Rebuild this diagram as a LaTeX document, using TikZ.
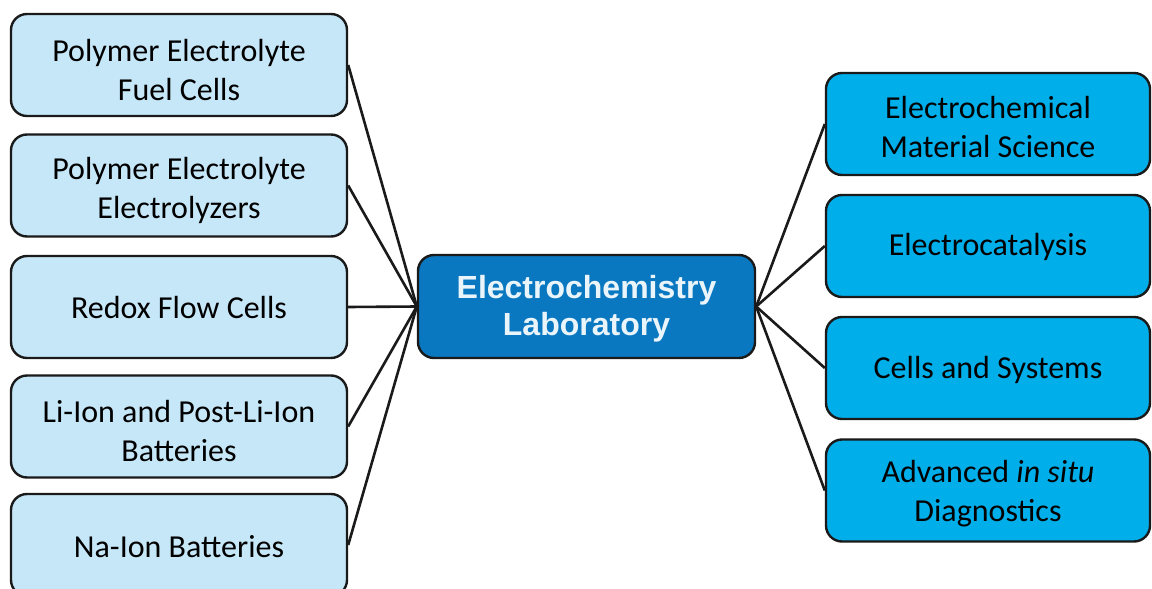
\documentclass[tikz,border=0pt]{standalone}
\usepackage{fontspec}
\setmainfont{Carlito}
\newfontfamily\arialfont{Liberation Sans}
\definecolor{lightbox}{HTML}{C6E7F8}
\definecolor{rightbox}{HTML}{00AEEA}
\definecolor{centerbox}{HTML}{0A78C0}
\definecolor{centertext}{HTML}{EAF5FB}
\definecolor{edgecol}{HTML}{1A1A1A}
\begin{document}
\begin{tikzpicture}[x=1pt,y=-1pt,
  basebox/.style={draw=edgecol, line width=2.4pt, rounded corners=16pt, inner sep=0pt},
  leftbox/.style={basebox, fill=lightbox, minimum width=336pt, minimum height=102pt},
  rightbox/.style={basebox, fill=rightbox, minimum width=324pt, minimum height=102pt},
  hubbox/.style={basebox, fill=centerbox, minimum width=337pt, minimum height=103pt},
  boxtext/.style={align=center, inner sep=0pt, text=black, font=\fontsize{32}{39}\selectfont},
  hubtext/.style={align=center, inner sep=0pt, text=centertext,
    font=\arialfont\bfseries\fontsize{32}{37}\selectfont},
  link/.style={draw=edgecol, line width=2.6pt}]
\useasboundingbox (0,0) rectangle (1152,589);
\fill[white] (0,0) rectangle (1152,589);
\node[hubbox] (hub) at (586.5,306.5) {};
\node[hubtext] (hubt) at (586.5,309) {Electrochemistry\\Laboratory};
\node[leftbox] (l1) at (179,65) {};
\node[leftbox] (l2) at (179,185.5) {};
\node[leftbox] (l3) at (179,307) {};
\node[leftbox] (l4) at (179,426.5) {};
\node[leftbox] (l5) at (179,545) {};
\node[boxtext] (l1t) at (179,70) {Polymer Electrolyte\\Fuel Cells};
\node[boxtext] (l2t) at (179,190) {Polymer Electrolyte\\Electrolyzers};
\node[boxtext] (l3t) at (179,308) {Redox Flow Cells};
\node[boxtext] (l4t) at (179,431) {Li-Ion and Post-Li-Ion\\Batteries};
\node[boxtext] (l5t) at (179,547) {Na-Ion Batteries};
\node[rightbox] (r1) at (988,124) {};
\node[rightbox] (r2) at (988,246) {};
\node[rightbox] (r3) at (988,368) {};
\node[rightbox] (r4) at (988,490.5) {};
\node[boxtext] (r1t) at (988,127) {Electrochemical\\Material Science};
\node[boxtext] (r2t) at (988,247) {Electrocatalysis};
\node[boxtext] (r3t) at (988,370) {Cells and Systems};
\node[boxtext] (r4t) at (988,494) {Advanced \textit{in situ}\\Diagnostics};
\foreach \n in {l1,l2,l3,l4,l5} \draw[link] (\n.east) -- (hub.west);
\foreach \n in {r1,r2,r3,r4} \draw[link] (\n.west) -- (hub.east);
\end{tikzpicture}
\end{document}
